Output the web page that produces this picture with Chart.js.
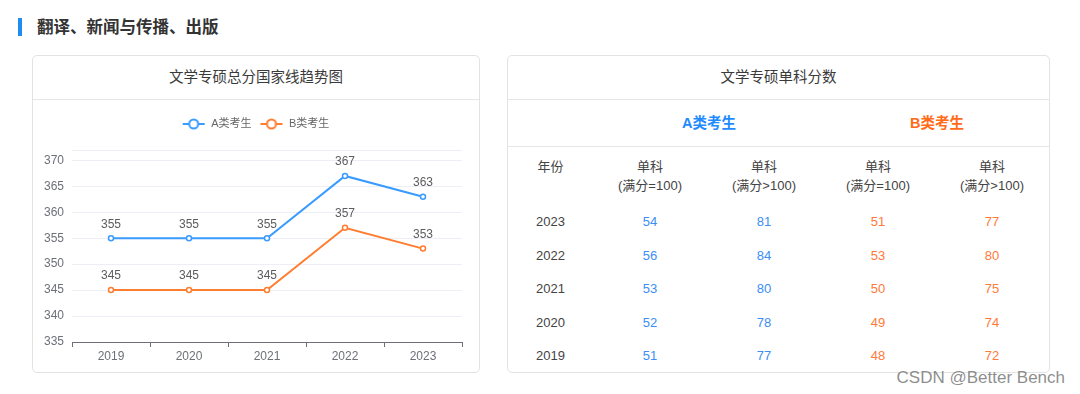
<!DOCTYPE html>
<html lang="zh-CN">
<head>
<meta charset="utf-8">
<title>翻译、新闻与传播、出版</title>
<script src="https://cdn.jsdelivr.net/npm/chart.js@4.4.1/dist/chart.umd.min.js"></script>
<style>
  * { box-sizing: border-box; }
  html, body { margin: 0; padding: 0; background: #fff; }
  body {
    width: 1080px; height: 394px; position: relative; overflow: hidden;
    font-family: 'Liberation Sans', 'Noto Sans CJK SC', sans-serif; color: #333;
  }
  .section-title {
    position: absolute; left: 18px; top: 18px; height: 18px;
    border-left: 4px solid #1f8cf3; padding-left: 15px;
    font-size: 16.5px; font-weight: bold; line-height: 18px; color: #333;
  }
  .card {
    position: absolute; top: 55px; height: 318px;
    border: 1px solid #e3e3e3; border-radius: 5px; background: #fff; overflow: hidden;
  }
  .card-head {
    height: 44px; line-height: 43px; text-align: center;
    font-size: 14.5px; color: #3a3a3a; border-bottom: 1px solid #e6e6e6;
  }
  #trendCard { left: 32px; width: 448px; }
  #scoreCard { left: 507px; width: 543px; }
  .chart-box { position: relative; width: 446px; height: 273px; }
  .group-row { height: 47px; border-bottom: 1px solid #e6e6e6; position: relative; }
  .group-row span {
    position: absolute; top: 0; line-height: 46px; width: 228px; text-align: center;
    font-size: 14.5px; font-weight: bold;
  }
  table { border-collapse: collapse; table-layout: fixed; width: 541px; }
  th { font-weight: normal; font-size: 13px; color: #444; line-height: 18.5px;
       padding: 11px 0 10px; vertical-align: top; }
  td { font-size: 13px; text-align: center; height: 33.5px; padding: 0; }
  td.year { color: #444; }
  .a { color: #3b8ef5; }
  .b { color: #ff7a3a; }
  .watermark {
    position: absolute; right: 15px; top: 368px; font-size: 17px;
    color: rgba(120,120,120,0.85); line-height: 20px;
  }
</style>
</head>
<body>
<div class="section-title">翻译、新闻与传播、出版</div>

<div class="card" id="trendCard">
  <div class="card-head">文学专硕总分国家线趋势图</div>
  <div class="chart-box"><canvas id="trendChart"></canvas></div>
</div>

<div class="card" id="scoreCard">
  <div class="card-head">文学专硕单科分数</div>
  <div class="group-row">
    <span style="left:87px;color:#1f8bff">A类考生</span>
    <span style="left:315px;color:#ff6b16">B类考生</span>
  </div>
  <table id="scoreTable">
    <colgroup><col style="width:85px"><col style="width:114px"><col style="width:114px"><col style="width:114px"><col style="width:114px"></colgroup>
    <thead><tr id="headRow"></tr></thead>
    <tbody id="scoreBody"></tbody>
  </table>
</div>

<div class="watermark">CSDN @Better Bench</div>

<script>
// --- DATA ---
const years = ['2019', '2020', '2021', '2022', '2023'];
const scoreA = [355, 355, 355, 367, 363];
const scoreB = [345, 345, 345, 357, 353];
const yTicks = [335, 340, 345, 350, 355, 360, 365, 370];
const yMin = 335;
const yMax = 372;

const tableYears = ['2023', '2022', '2021', '2020', '2019'];
const aSingle100 = [54, 56, 53, 52, 51];
const aSingleOver = [81, 84, 80, 78, 77];
const bSingle100 = [51, 53, 50, 49, 48];
const bSingleOver = [77, 80, 75, 74, 72];
const columnHeads = ['年份', '单科<br>(满分=100)', '单科<br>(满分&gt;100)', '单科<br>(满分=100)', '单科<br>(满分&gt;100)'];

const blue = '#3a9bff';
const orange = '#ff7d2e';

Chart.defaults.font.family = "'Liberation Sans', 'Noto Sans CJK SC', sans-serif";

// legend icon: short line with a hollow circle
function legendIcon(color) {
    const c = document.createElement('canvas');
    c.width = 24; c.height = 12;
    const ctx = c.getContext('2d');
    ctx.strokeStyle = color;
    ctx.lineWidth = 2;
    ctx.beginPath(); ctx.moveTo(1, 6); ctx.lineTo(23, 6); ctx.stroke();
    ctx.fillStyle = '#fff';
    ctx.beginPath(); ctx.arc(12, 6, 4.5, 0, Math.PI * 2); ctx.fill(); ctx.stroke();
    return c;
}

// value labels above each point
const pointLabels = {
    id: 'pointLabels',
    afterDatasetsDraw(chart) {
        const ctx = chart.ctx;
        ctx.save();
        ctx.font = "12px 'Liberation Sans', sans-serif";
        ctx.fillStyle = '#5c5c5c';
        ctx.textAlign = 'center';
        ctx.textBaseline = 'middle';
        chart.data.datasets.forEach((ds, i) => {
            chart.getDatasetMeta(i).data.forEach((pt, j) => {
                ctx.fillText(ds.data[j], pt.x, pt.y - 14);
            });
        });
        ctx.restore();
    }
};

// extra room between legend and plot, and nudge the legend row to the right
const legendGap = {
    id: 'legendGap',
    beforeInit(chart) {
        const fit = chart.legend.fit;
        chart.legend.fit = function () {
            fit.call(this);
            this.height += 10.5;
            if (this.lineWidths && this.lineWidths.length) {
                this.lineWidths[0] -= this.options.labels.padding + 8;
            }
        };
    }
};

function makeDataset(label, data, color) {
    return {
        label: label,
        data: data,
        borderColor: color,
        backgroundColor: '#fff',
        borderWidth: 2,
        pointRadius: 2.5,
        pointBorderWidth: 1.5,
        pointBackgroundColor: '#fff',
        pointBorderColor: color,
        tension: 0,
        icon: legendIcon(color)
    };
}

new Chart(document.getElementById('trendChart'), {
    type: 'line',
    data: {
        labels: years,
        datasets: [makeDataset('A类考生', scoreA, blue), makeDataset('B类考生', scoreB, orange)]
    },
    options: {
        responsive: true,
        maintainAspectRatio: false,
        animation: false,
        layout: { padding: { top: 10.5, right: 17, bottom: 0, left: 0 } },
        plugins: {
            tooltip: { enabled: false },
            legend: {
                position: 'top',
                labels: {
                    usePointStyle: true,
                    pointStyleWidth: 24,
                    padding: 8,
                    color: '#666',
                    font: { size: 11 },
                    generateLabels(chart) {
                        return chart.data.datasets.map((ds, i) => ({
                            text: ds.label,
                            pointStyle: ds.icon,
                            fontColor: '#666',
                            datasetIndex: i,
                            lineWidth: 0,
                            hidden: false
                        }));
                    }
                }
            }
        },
        scales: {
            x: {
                offset: true,
                grid: { offset: true, drawOnChartArea: false, tickLength: 5, color: '#6e7079' },
                border: { color: '#6e7079' },
                ticks: { color: '#6e7079', padding: 2, font: { size: 12 } },
                afterFit(scale) { scale.height = 31; }
            },
            y: {
                min: yMin,
                max: yMax,
                afterBuildTicks(scale) {
                    scale.ticks = yTicks.concat([yMax]).map(v => ({ value: v }));
                },
                ticks: {
                    color: '#6e7079',
                    padding: 8,
                    font: { size: 12 },
                    callback: v => (yTicks.includes(v) ? v : '')
                },
                grid: { color: '#eceff6', drawTicks: false },
                border: { display: false },
                afterFit(scale) { scale.width = 39; }
            }
        }
    },
    plugins: [pointLabels, legendGap]
});

// --- TABLE ---
function initTable() {
    const headRow = document.getElementById('headRow');
    columnHeads.forEach(h => {
        const th = document.createElement('th');
        th.innerHTML = h;
        headRow.appendChild(th);
    });

    const body = document.getElementById('scoreBody');
    tableYears.forEach((y, i) => {
        const tr = document.createElement('tr');
        const cells = [
            [y, 'year'],
            [aSingle100[i], 'a'],
            [aSingleOver[i], 'a'],
            [bSingle100[i], 'b'],
            [bSingleOver[i], 'b']
        ];
        cells.forEach(([v, cls]) => {
            const td = document.createElement('td');
            td.className = cls;
            td.innerText = v;
            tr.appendChild(td);
        });
        body.appendChild(tr);
    });
}
initTable();
</script>
</body>
</html>
